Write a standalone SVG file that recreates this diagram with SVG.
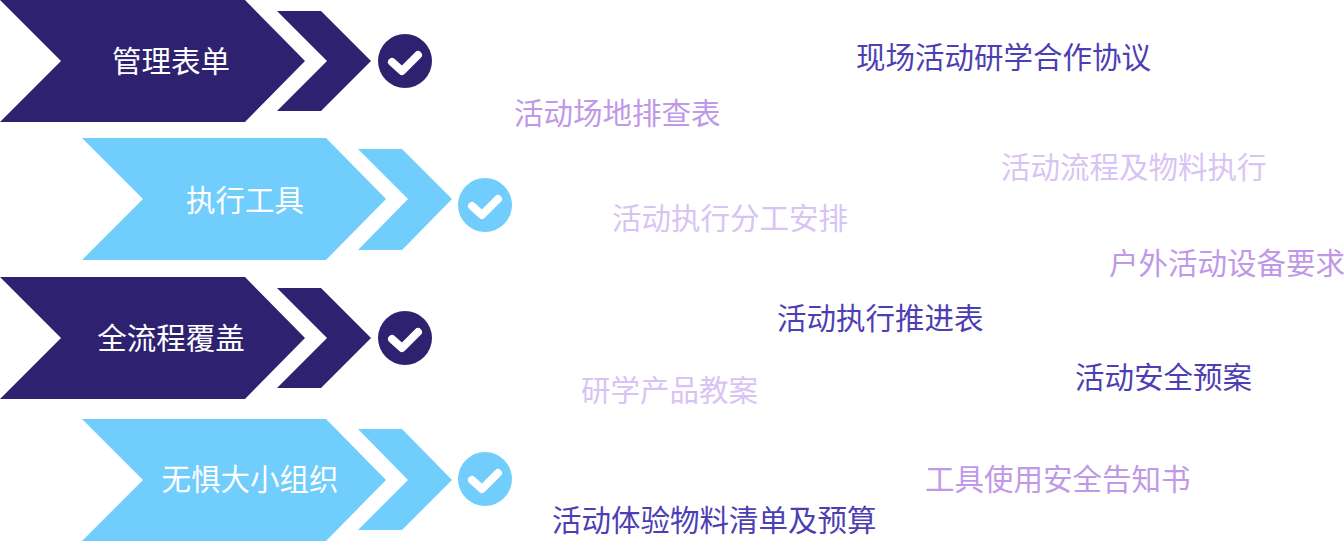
<svg xmlns="http://www.w3.org/2000/svg" width="1344" height="541" viewBox="0 0 1344 541">
<style>
.navy{fill:#2e2270}
.sky{fill:#70cdfc}
.lbl{font-family:"Noto Sans CJK SC","Noto Sans",sans-serif;font-size:29.5px;fill:#ffffff;text-anchor:middle}
.item{font-family:"Noto Sans CJK SC","Noto Sans",sans-serif;font-size:29.5px}
.dark{fill:#4d3fb3}
.mid{fill:#bf98e8}
.light{fill:#d8c4f4}
.chk{fill:none;stroke:#ffffff;stroke-width:8;stroke-linecap:round;stroke-linejoin:round}
</style>
<defs>
<path id="check" class="chk" d="M-13 1 L-3 10 L13 -6"/>
</defs>
<g id="connectors"></g>
<g id="row1">
<polygon class="navy" points="0,0 245,0 305,61 245,122 0,122 61,61"/>
<polygon class="navy" points="277,11 321,11 371,61 321,111 277,111 327,61"/>
<circle class="navy" cx="405" cy="61" r="27"/>
<use href="#check" x="405" y="61"/>
<text class="lbl" x="171" y="72">管理表单</text>
</g>
<g id="row2">
<polygon class="sky" points="82,138 326,138 386,199 326,260 82,260 143,199"/>
<polygon class="sky" points="358,149 402,149 452,199 402,250 358,250 408,199"/>
<circle class="sky" cx="485" cy="205" r="27"/>
<use href="#check" x="485" y="205"/>
<text class="lbl" x="245" y="211">执行工具</text>
</g>
<g id="row3">
<polygon class="navy" points="0,277 245,277 305,338 245,399 0,399 61,338"/>
<polygon class="navy" points="277,288 321,288 371,338 321,388 277,388 327,338"/>
<circle class="navy" cx="405" cy="338" r="27"/>
<use href="#check" x="405" y="338"/>
<text class="lbl" x="171" y="349">全流程覆盖</text>
</g>
<g id="row4">
<polygon class="sky" points="82,419 326,419 386,480 326,541 82,541 143,480"/>
<polygon class="sky" points="358,429 402,429 452,480 402,530 358,530 408,480"/>
<circle class="sky" cx="485" cy="479" r="27"/>
<use href="#check" x="485" y="479"/>
<text class="lbl" x="250" y="490">无惧大小组织</text>
</g>
<g id="items">
<text id="t1" class="item dark" x="856" y="68">现场活动研学合作协议</text>
<text id="t2" class="item mid" x="514" y="124">活动场地排查表</text>
<text id="t3" class="item light" x="1001" y="178">活动流程及物料执行</text>
<text id="t4" class="item light" x="612" y="229">活动执行分工安排</text>
<text id="t5" class="item mid" x="1109" y="274">户外活动设备要求</text>
<text id="t6" class="item dark" x="777" y="329">活动执行推进表</text>
<text id="t7" class="item dark" x="1075" y="388">活动安全预案</text>
<text id="t8" class="item light" x="581" y="401">研学产品教案</text>
<text id="t9" class="item mid" x="925" y="490">工具使用安全告知书</text>
<text id="t10" class="item dark" x="552" y="531">活动体验物料清单及预算</text>
</g>
</svg>
